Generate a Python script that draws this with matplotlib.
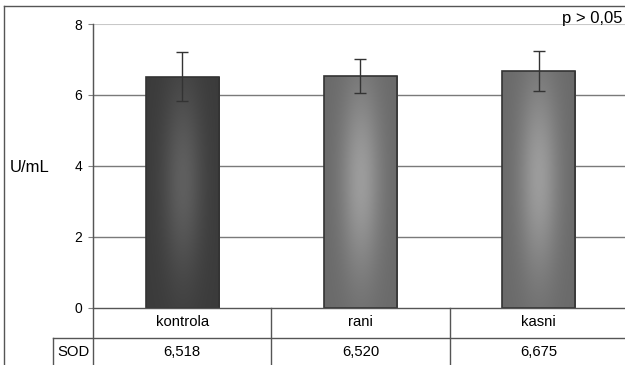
import numpy as np
import matplotlib.pyplot as plt
from matplotlib.lines import Line2D
from matplotlib.patches import Rectangle

plt.rcParams['font.family'] = ['Liberation Sans', 'DejaVu Sans']

# podaci
grupe = ['kontrola', 'rani', 'kasni']
sod = [6.518, 6.520, 6.675]
sd = [0.70, 0.48, 0.56]
boje = [('#3b3b3b', '#5f5f5f'), ('#6a6a6a', '#9c9c9c'), ('#6a6a6a', '#9c9c9c')]

W, H = 625, 365
fig = plt.figure(figsize=(W / 100, H / 100), dpi=100)

# polozaj grafa u pikselima
px_l, px_r, px_t, px_b = 93, 628, 24, 307.5
ax = fig.add_axes([px_l / W, 1 - px_b / H, (px_r - px_l) / W, (px_b - px_t) / H])
ax.set_xlim(-0.5, 2.5)
ax.set_ylim(0, 8)

sirina = 0.41
x = np.arange(len(grupe))


def gradijent(c_rub, c_sred):
    # svjetlija sredina stupca
    a = np.array([int(c_rub[i:i + 2], 16) for i in (1, 3, 5)]) / 255
    b = np.array([int(c_sred[i:i + 2], 16) for i in (1, 3, 5)]) / 255
    xx, yy = np.meshgrid(np.linspace(-1, 1, 80), np.linspace(-1, 1, 200))
    t = np.exp(-(xx ** 2) / 0.3 - ((yy + 0.1) ** 2) / 0.7)
    return a + (b - a) * t[..., None]


for i in range(len(grupe)):
    img = gradijent(*boje[i])
    ax.imshow(img, extent=[x[i] - sirina / 2, x[i] + sirina / 2, 0, sod[i]],
              aspect='auto', zorder=2, interpolation='bilinear')
    ax.add_patch(Rectangle((x[i] - sirina / 2, 0), sirina, sod[i], fill=False,
                           edgecolor='#333333', lw=1.2, zorder=3))

ax.errorbar(x, sod, yerr=sd, fmt='none', ecolor='#333333', elinewidth=1,
            capsize=4, capthick=1, zorder=4)
ax.set_xlim(-0.5, 2.5)
ax.set_ylim(0, 8)

# mreza
for v in [2, 4, 6]:
    ax.axhline(v, color='#7a7a7a', lw=1, zorder=1)
ax.axhline(8, color='#c8c8c8', lw=1.5, zorder=1)

for s in ['top', 'right', 'bottom']:
    ax.spines[s].set_visible(False)
ax.spines['left'].set_color('#808080')
ax.set_xticks([])
ax.set_yticks([0, 2, 4, 6, 8])
ax.tick_params(axis='y', length=3.6, color='#808080', labelsize=10, pad=4)

# tablica ispod grafa (u pikselima)
def lin(x0, y0, x1, y1):
    fig.add_artist(Line2D([x0 / W, x1 / W], [1 - y0 / H, 1 - y1 / H],
                          color='#555555', lw=1))

red1 = 337.7
lin(px_l, px_b, W + 5, px_b)
lin(53, red1, W + 5, red1)
lin(px_l, px_t, px_l, H + 5)
lin(53, red1, 53, H + 5)
sirina_kat = (px_r - px_l) / len(grupe)
for i in range(1, len(grupe)):
    xp = px_l + i * sirina_kat
    lin(xp, px_b, xp, H + 5)

for i, g in enumerate(grupe):
    xc = (px_l + (i + 0.5) * sirina_kat) / W
    fig.text(xc, 1 - 322 / H, g, ha='center', va='center', fontsize=10.7)
    fig.text(xc, 1 - 352.5 / H, f'{sod[i]:.3f}'.replace('.', ','),
             ha='center', va='center', fontsize=10.7)
fig.text(73 / W, 1 - 352.5 / H, 'SOD', ha='center', va='center', fontsize=10.7)

fig.text(30 / W, 1 - 167 / H, 'U/mL', ha='center', va='center', fontsize=12)
fig.text(623 / W, 1 - 19 / H, 'p > 0,05', ha='right', va='center', fontsize=12)

# okvir
lin(4, 6, W + 5, 6)
lin(4, 6, 4, H + 5)

fig.savefig('out.png', dpi=100)
